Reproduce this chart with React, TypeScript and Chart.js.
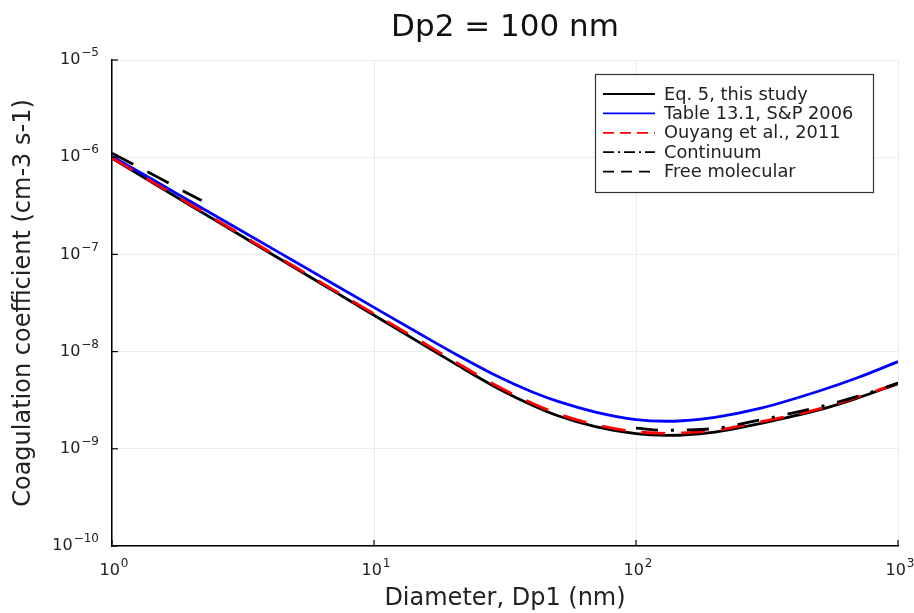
import React, { useEffect, useRef } from "react";
import { Chart, registerables } from "chart.js";

Chart.register(...registerables);

// ---------- data ----------
const diameters = [1, 1.5, 2, 3, 5, 7, 10, 15, 20, 30, 40, 50, 70, 100, 130, 150, 200, 300, 500, 700, 1000];
const eq5 = [9.7e-7, 5.05e-7, 3.17e-7, 1.65e-7, 7.24e-8, 4.21e-8, 2.37e-8, 1.23e-8, 7.74e-9, 4.12e-9, 2.82e-9, 2.2e-9, 1.69e-9, 1.43e-9, 1.377e-9, 1.387e-9, 1.485e-9, 1.83e-9, 2.51e-9, 3.32e-9, 4.68e-9];
const sp2006 = [1.02e-6, 5.45e-7, 3.48e-7, 1.86e-7, 8.4e-8, 4.97e-8, 2.85e-8, 1.515e-8, 9.76e-9, 5.47e-9, 3.86e-9, 3.09e-9, 2.39e-9, 2.0e-9, 1.92e-9, 1.944e-9, 2.11e-9, 2.62e-9, 3.93e-9, 5.38e-9, 7.88e-9];
const ouyang = [9.8e-7, 5.13e-7, 3.24e-7, 1.69e-7, 7.41e-8, 4.32e-8, 2.45e-8, 1.29e-8, 8.11e-9, 4.32e-9, 2.96e-9, 2.31e-9, 1.77e-9, 1.5e-9, 1.44e-9, 1.455e-9, 1.55e-9, 1.9e-9, 2.58e-9, 3.4e-9, 4.73e-9];
const contDiameters = [100, 130, 150, 200, 300, 500, 700, 1000];
const continuum = [1.63e-9, 1.55e-9, 1.56e-9, 1.62e-9, 1.99e-9, 2.7e-9, 3.46e-9, 4.73e-9];
const fmDiameters = [1, 1.5, 2, 2.2];
const freeMolecular = [1.1e-6, 6.2e-7, 4.08e-7, 3.59e-7];

const xTicks = [1, 10, 100, 1000];
const xTickExponents = ["0", "1", "2", "3"];
const yTicks = [1e-10, 1e-9, 1e-8, 1e-7, 1e-6, 1e-5];
const yTickExponents = ["−10", "−9", "−8", "−7", "−6", "−5"];

const seriesLabels = ["Eq. 5, this study", "Table 13.1, S&P 2006", "Ouyang et al., 2011", "Continuum", "Free molecular"];
const chartTitle = "Dp2 = 100 nm";
const xTitle = "Diameter, Dp1 (nm)";
const yTitle = "Coagulation coefficient (cm-3 s-1)";

const FONT = "'DejaVu Sans', sans-serif";

function pts(xs: number[], ys: number[]) {
  return xs.map((x, i) => ({ x, y: ys[i] }));
}

const legendDash: number[][] = [[], [], [11, 6], [11, 4, 2, 4], [11, 7]];

function drawPow(ctx: CanvasRenderingContext2D, exp: string, x: number, y: number, align: "right" | "center") {
  ctx.font = `16px ${FONT}`;
  const wBase = ctx.measureText("10").width;
  ctx.font = `12px ${FONT}`;
  const wExp = ctx.measureText(exp).width;
  const total = wBase + 1 + wExp;
  const left = align === "right" ? x - total : x - total / 2;
  ctx.textAlign = "left";
  ctx.textBaseline = "middle";
  ctx.font = `16px ${FONT}`;
  ctx.fillText("10", left, y);
  ctx.font = `12px ${FONT}`;
  ctx.fillText(exp, left + wBase + 1, y - 7);
}

const decorPlugin = {
  id: "decor",
  afterDatasetsDraw(chart: any) {
    const ctx = chart.ctx;
    const area = chart.chartArea;
    const xs = chart.scales.x;
    const ys = chart.scales.y;
    ctx.save();
    // inward ticks
    ctx.strokeStyle = "#000";
    ctx.lineWidth = 1.2;
    xTicks.forEach((v) => {
      const px = xs.getPixelForValue(v);
      ctx.beginPath();
      ctx.moveTo(px, area.bottom);
      ctx.lineTo(px, area.bottom - 6);
      ctx.stroke();
    });
    yTicks.forEach((v) => {
      const py = ys.getPixelForValue(v);
      ctx.beginPath();
      ctx.moveTo(area.left, py);
      ctx.lineTo(area.left + 6, py);
      ctx.stroke();
    });
    // tick labels
    ctx.fillStyle = "#222";
    xTicks.forEach((v, i) => {
      drawPow(ctx, xTickExponents[i], xs.getPixelForValue(v) + 2, area.bottom + 25, "center");
    });
    yTicks.forEach((v, i) => {
      drawPow(ctx, yTickExponents[i], area.left - 13, ys.getPixelForValue(v), "right");
    });
    // title
    ctx.fillStyle = "#111";
    ctx.font = `31px ${FONT}`;
    ctx.textAlign = "center";
    ctx.textBaseline = "middle";
    ctx.fillText(chartTitle, (area.left + area.right) / 2, 28);
    // legend
    const bx = 595, by = 74, bw = 278, bh = 118;
    ctx.fillStyle = "#fff";
    ctx.fillRect(bx, by, bw, bh);
    ctx.strokeStyle = "#333";
    ctx.lineWidth = 1.2;
    ctx.strokeRect(bx + 0.5, by + 0.5, bw, bh);
    ctx.font = `17.8px ${FONT}`;
    ctx.textAlign = "left";
    ctx.textBaseline = "middle";
    chart.data.datasets.forEach((ds: any, i: number) => {
      const y = 94 + i * 19.4;
      ctx.strokeStyle = ds.borderColor;
      ctx.lineWidth = 1.8;
      ctx.setLineDash(legendDash[i]);
      ctx.beginPath();
      ctx.moveTo(603, y);
      ctx.lineTo(655, y);
      ctx.stroke();
      ctx.setLineDash([]);
      ctx.fillStyle = "#222";
      ctx.fillText(ds.label, 664, y + 1);
    });
    ctx.restore();
  },
};

export default function App() {
  const ref = useRef<HTMLCanvasElement | null>(null);
  useEffect(() => {
    document.body.style.margin = "0";
    document.body.style.overflow = "hidden";
    const canvas = ref.current;
    if (!canvas) return;
    const common = {
      pointRadius: 0,
      fill: false,
      cubicInterpolationMode: "monotone" as const,
      borderJoinStyle: "round" as const,
    };
    const chart = new Chart(canvas, {
      type: "line",
      data: {
        datasets: [
          { ...common, label: seriesLabels[0], data: pts(diameters, eq5), borderColor: "#000000", borderWidth: 2.8, order: 5 },
          { ...common, label: seriesLabels[1], data: pts(diameters, sp2006), borderColor: "#0000ff", borderWidth: 2.8, order: 4 },
          { ...common, label: seriesLabels[2], data: pts(diameters, ouyang), borderColor: "#ff0000", borderWidth: 2.8, borderDash: [24, 16], order: 3 },
          { ...common, label: seriesLabels[3], data: pts(contDiameters, continuum), borderColor: "#000000", borderWidth: 2.8, borderDash: [22, 13, 3, 13], order: 2 },
          { ...common, label: seriesLabels[4], data: pts(fmDiameters, freeMolecular), borderColor: "#000000", borderWidth: 2.8, borderDash: [24, 16], order: 1 },
        ],
      },
      options: {
        responsive: false,
        animation: false,
        events: [],
        layout: { padding: { top: 60, right: 16, left: 0, bottom: 0 } },
        plugins: {
          legend: { display: false },
          tooltip: { enabled: false },
          title: { display: false },
        },
        scales: {
          x: {
            type: "logarithmic",
            min: 1,
            max: 1000,
            afterBuildTicks: (s: any) => {
              s.ticks = xTicks.map((v) => ({ value: v }));
            },
            afterFit: (s: any) => {
              s.height = 67;
            },
            grid: { color: "#ebebeb", lineWidth: 1, drawTicks: false },
            border: { display: true, color: "#000", width: 1.5 },
            ticks: { display: false },
            title: {
              display: true,
              text: xTitle,
              color: "#222",
              font: { family: FONT, size: 24 },
              padding: { top: 0, bottom: 0 },
            },
          },
          y: {
            type: "logarithmic",
            min: 1e-10,
            max: 1e-5,
            afterBuildTicks: (s: any) => {
              s.ticks = yTicks.map((v) => ({ value: v }));
            },
            afterFit: (s: any) => {
              s.width = 112;
            },
            grid: { color: "#ebebeb", lineWidth: 1, drawTicks: false },
            border: { display: true, color: "#000", width: 1.5 },
            ticks: { display: false },
            title: {
              display: true,
              text: yTitle,
              color: "#222",
              font: { family: FONT, size: 24 },
              padding: { top: 9, bottom: 0 },
            },
          },
        },
      },
      plugins: [decorPlugin],
    });
    return () => chart.destroy();
  }, []);
  return (
    <div style={{ width: 914, height: 613, background: "#fff" }}>
      <canvas ref={ref} width={914} height={613} style={{ width: 914, height: 613, display: "block" }} />
    </div>
  );
}
